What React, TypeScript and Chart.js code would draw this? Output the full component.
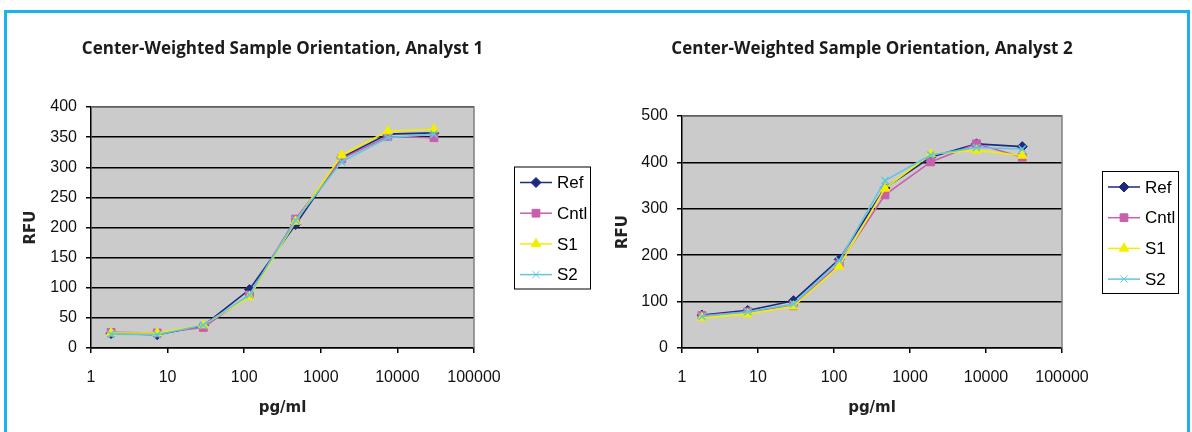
import React, { useEffect, useRef } from 'react';
import { Chart, registerables } from 'chart.js';
import { drawPoint } from 'chart.js/helpers';

Chart.register(...registerables);

// ---------- data ----------
const concentrations = [1.83, 7.32, 29.3, 117.2, 468.8, 1875, 7500, 30000];
const seriesNames = ['Ref', 'Cntl', 'S1', 'S2'];
const xTickValues = [1, 10, 100, 1000, 10000, 100000];

const analyst1Ref = [24, 22, 37, 97, 205, 316, 355, 357];
const analyst1Cntl = [26, 25, 34, 88, 214, 314, 351, 349];
const analyst1S1 = [25, 25, 38, 85, 210, 320, 360, 363];
const analyst1S2 = [23, 22, 38, 88, 212, 309, 349, 355];

const analyst2Ref = [71, 81, 102, 191, 345, 411, 440, 434];
const analyst2Cntl = [70, 78, 91, 181, 330, 401, 440, 411];
const analyst2S1 = [65, 73, 90, 176, 344, 418, 426, 415];
const analyst2S2 = [68, 78, 95, 188, 361, 416, 432, 429];

const titles = [
  'Center-Weighted Sample Orientation, Analyst 1',
  'Center-Weighted Sample Orientation, Analyst 2',
];
const yAxisTitle = 'RFU';
const xAxisTitle = 'pg/ml';

// ---------- styles ----------
const seriesColors = ['#1c2a80', '#c75fad', '#f2ee00', '#5ec8de'];
const seriesMarkers = ['rectRot', 'rect', 'triangle', 'crossRot'];
const seriesRadius = [5, 5.5, 5.5, 5];
const seriesOrder = [3, 2, 1, 0];

const tickFont = { family: '"Liberation Sans", Arial, sans-serif', size: 16 };
const axisTitleFont = { family: '"DejaVu Sans", Verdana, sans-serif', size: 15, weight: 'bold' as const };

interface PanelSpec {
  title: string;
  values: number[][];
  yMax: number;
  yStep: number;
  yAxisWidth: number;
  yTitlePad: number;
  padTop: number;
  padRight: number;
}

const panels: PanelSpec[] = [
  {
    title: titles[0],
    values: [analyst1Ref, analyst1Cntl, analyst1S1, analyst1S2],
    yMax: 400,
    yStep: 50,
    yAxisWidth: 91,
    yTitlePad: 22,
    padTop: 107,
    padRight: 122,
  },
  {
    title: titles[1],
    values: [analyst2Ref, analyst2Cntl, analyst2S1, analyst2S2],
    yMax: 500,
    yStep: 100,
    yAxisWidth: 86,
    yTitlePad: 18,
    padTop: 116,
    padRight: 130,
  },
];

const decorPlugin = {
  id: 'decor',
  beforeDraw(chart: any) {
    const { ctx, chartArea: a } = chart;
    ctx.save();
    ctx.fillStyle = '#cbcbcb';
    ctx.fillRect(a.left, a.top, a.right - a.left, a.bottom - a.top);
    ctx.restore();
  },
  afterDraw(chart: any, _args: any, opts: any) {
    const { ctx, chartArea: a } = chart;
    ctx.save();
    // top & right plot border
    ctx.strokeStyle = '#808080';
    ctx.lineWidth = 1.5;
    ctx.beginPath();
    ctx.moveTo(a.left, a.top);
    ctx.lineTo(a.right, a.top);
    ctx.lineTo(a.right, a.bottom);
    ctx.stroke();

    // chart title
    ctx.fillStyle = '#1d1a1b';
    ctx.font = '700 17px "Open Sans", "Noto Sans", sans-serif';
    ctx.textAlign = 'center';
    ctx.textBaseline = 'middle';
    ctx.fillText(opts.title, (a.left + a.right) / 2, 49);

    // legend
    const ds = chart.data.datasets;
    const boxW = 76;
    const rowH = 30.7;
    const boxH = 122;
    const bx = a.right + 40;
    const by = (a.top + a.bottom) / 2 - boxH / 2;
    ctx.fillStyle = '#ffffff';
    ctx.fillRect(bx, by, boxW, boxH);
    ctx.strokeStyle = '#000000';
    ctx.lineWidth = 1;
    ctx.strokeRect(bx + 0.5, by + 0.5, boxW, boxH);
    ctx.font = '17px "Liberation Sans", Arial, sans-serif';
    ctx.textAlign = 'left';
    ctx.textBaseline = 'middle';
    ds.forEach((d: any, i: number) => {
      const cy = by + 16 + i * rowH;
      ctx.strokeStyle = d.borderColor;
      ctx.lineWidth = 1.5;
      ctx.beginPath();
      ctx.moveTo(bx + 6, cy);
      ctx.lineTo(bx + 38, cy);
      ctx.stroke();
      ctx.fillStyle = d.backgroundColor;
      ctx.strokeStyle = d.borderColor;
      ctx.lineWidth = 1;
      drawPoint(ctx, { pointStyle: d.pointStyle, radius: d.pointRadius, borderWidth: 1, rotation: 0 } as any, bx + 22, cy);
      ctx.fillStyle = '#000000';
      ctx.fillText(d.label, bx + 43, cy + 1);
    });
    ctx.restore();
  },
};

function makeConfig(p: PanelSpec): any {
  return {
    type: 'line',
    data: {
      datasets: seriesNames.map((name, i) => ({
        label: name,
        data: concentrations.map((x, j) => ({ x, y: p.values[i][j] })),
        borderColor: seriesColors[i],
        backgroundColor: seriesColors[i],
        pointStyle: seriesMarkers[i],
        pointRadius: seriesRadius[i],
        pointBorderWidth: seriesMarkers[i] === 'crossRot' ? 1.5 : 1,
        borderWidth: 1.6,
        tension: 0,
        order: seriesOrder[i],
      })),
    },
    options: {
      animation: false,
      responsive: false,
      events: [],
      layout: { padding: { left: 0, top: p.padTop, right: p.padRight, bottom: 12 } },
      plugins: {
        legend: { display: false },
        title: { display: false },
        tooltip: { enabled: false },
        decor: { title: p.title },
      },
      scales: {
        x: {
          type: 'logarithmic',
          min: 1,
          max: 100000,
          afterBuildTicks: (s: any) => {
            s.ticks = xTickValues.map((v) => ({ value: v }));
          },
          afterFit: (s: any) => {
            s.height = 72;
          },
          grid: { drawOnChartArea: false, drawTicks: true, tickLength: 5, color: '#000', lineWidth: 1.5 },
          border: { color: '#000', width: 1.5 },
          ticks: {
            callback: (v: any) => String(v),
            font: tickFont,
            color: '#111',
            padding: 15,
            maxRotation: 0,
            autoSkip: false,
          },
          title: { display: true, text: xAxisTitle, font: axisTitleFont, color: '#222', padding: { top: 0, bottom: 3 } },
        },
        y: {
          min: 0,
          max: p.yMax,
          afterFit: (s: any) => {
            s.width = p.yAxisWidth;
          },
          grid: { color: '#000', lineWidth: 1.5, tickLength: 5 },
          border: { color: '#000', width: 1.5 },
          ticks: { stepSize: p.yStep, font: tickFont, color: '#111', padding: 9 },
          title: { display: true, text: yAxisTitle, font: axisTitleFont, color: '#222', padding: { top: p.yTitlePad, bottom: 0 } },
        },
      },
    },
    plugins: [decorPlugin],
  };
}

function Panel({ spec, left }: { spec: PanelSpec; left: number }) {
  const ref = useRef<HTMLCanvasElement>(null);
  useEffect(() => {
    if (!ref.current) return;
    const chart = new Chart(ref.current, makeConfig(spec));
    return () => chart.destroy();
  }, [spec]);
  return (
    <canvas
      ref={ref}
      width={596}
      height={432}
      style={{ position: 'absolute', left, top: 0, width: 596, height: 432 }}
    />
  );
}

export default function App() {
  return (
    <div
      style={{
        position: 'absolute',
        left: 0,
        top: 0,
        width: 1192,
        height: 432,
        overflow: 'hidden',
        background: '#ffffff',
      }}
    >
      <div
        style={{
          position: 'absolute',
          left: 4,
          top: 10,
          width: 1186,
          height: 460,
          boxSizing: 'border-box',
          border: '3px solid #1ab3ec',
        }}
      />
      <Panel spec={panels[0]} left={0} />
      <Panel spec={panels[1]} left={596} />
    </div>
  );
}
